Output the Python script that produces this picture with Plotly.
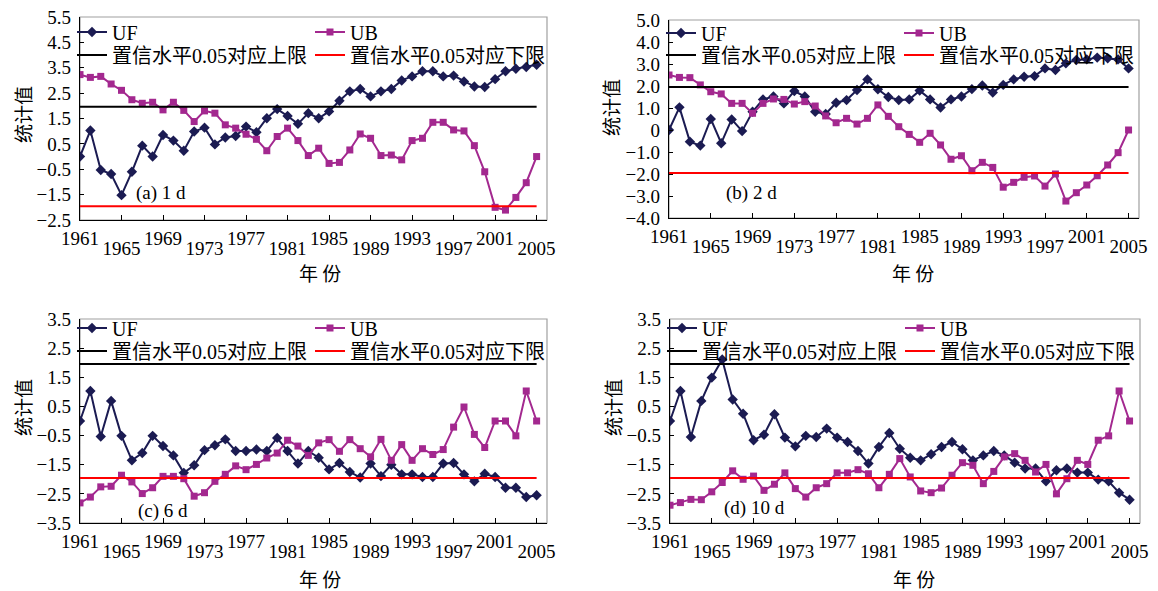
import plotly.graph_objects as go

years = list(range(1961, 2006))

UF_1d = [0.0, 1.03, -0.53, -0.69, -1.52, -0.6, 0.43, 0.0, 0.85, 0.63,
         0.23, 0.99, 1.14, 0.48, 0.75, 0.81, 1.18, 0.96, 1.51, 1.87,
         1.6, 1.29, 1.71, 1.51, 1.78, 2.2, 2.57, 2.66, 2.37, 2.57,
         2.66, 3.0, 3.16, 3.36, 3.36, 3.16, 3.19, 2.96, 2.76, 2.74,
         3.05, 3.36, 3.46, 3.53, 3.62]
UB_1d = [3.23, 3.12, 3.16, 2.86, 2.61, 2.24, 2.1, 2.14, 1.84, 2.14,
         1.82, 1.38, 1.8, 1.71, 1.25, 1.12, 0.88, 0.68, 0.23, 0.79,
         1.12, 0.63, 0.04, 0.33, -0.27, -0.23, 0.26, 0.89, 0.72, 0.04,
         0.06, -0.13, 0.63, 0.72, 1.35, 1.35, 1.05, 1.01, 0.43, -0.6,
         -2.0, -2.11, -1.61, -1.03, 0.0]
UF_2d = [0.0, 1.03, -0.53, -0.71, 0.5, -0.6, 0.48, -0.05, 0.83, 1.39,
         1.52, 1.21, 1.77, 1.52, 0.83, 0.73, 1.24, 1.36, 1.82, 2.3,
         1.85, 1.5, 1.36, 1.39, 1.79, 1.39, 1.02, 1.39, 1.52, 1.86,
         2.02, 1.7, 2.05, 2.3, 2.42, 2.45, 2.8, 2.73, 3.03, 3.18,
         3.21, 3.29, 3.26, 3.21, 2.8]
UB_2d = [2.5, 2.39, 2.38, 2.05, 1.74, 1.64, 1.21, 1.21, 0.76, 1.21,
         1.41, 1.39, 1.18, 1.29, 1.09, 0.64, 0.33, 0.53, 0.27, 0.53,
         1.14, 0.62, 0.15, -0.2, -0.56, -0.15, -0.68, -1.33, -1.17, -1.85,
         -1.47, -1.7, -2.6, -2.38, -2.15, -2.09, -2.55, -2.0, -3.23, -2.85,
         -2.5, -2.08, -1.59, -1.03, 0.0]
UF_6d = [0.0, 1.03, -0.53, 0.69, -0.51, -1.35, -1.1, -0.51, -0.86, -1.18,
         -1.78, -1.52, -1.0, -0.83, -0.63, -1.03, -1.03, -0.98, -1.03, -0.58,
         -1.03, -1.46, -1.03, -1.26, -1.66, -1.44, -1.75, -1.94, -1.46, -1.89,
         -1.5, -1.83, -1.83, -1.92, -1.92, -1.46, -1.44, -1.83, -2.07, -1.81,
         -1.92, -2.29, -2.29, -2.61, -2.55]
UB_6d = [-2.81, -2.61, -2.26, -2.24, -1.86, -2.09, -2.49, -2.29, -1.9, -1.9,
         -1.98, -2.58, -2.46, -2.07, -1.83, -1.54, -1.67, -1.49, -1.27, -1.1,
         -0.66, -0.86, -1.18, -0.75, -0.64, -1.04, -0.64, -0.95, -1.23, -0.63,
         -1.35, -0.81, -1.35, -0.95, -1.15, -0.98, -0.21, 0.48, -0.46, -0.91,
         0.0, 0.0, -0.51, 1.03, 0.0]
UF_10d = [0.0, 1.03, -0.55, 0.69, 1.49, 2.11, 0.74, 0.25, -0.66, -0.47,
          0.23, -0.57, -0.87, -0.51, -0.55, -0.26, -0.57, -0.72, -1.03, -1.46,
          -0.89, -0.41, -0.95, -1.26, -1.35, -1.14, -0.89, -0.72, -0.97, -1.35,
          -1.18, -1.03, -1.18, -1.43, -1.63, -1.63, -2.07, -1.69, -1.63, -1.77,
          -1.77, -2.01, -2.07, -2.46, -2.7]
UB_10d = [-2.89, -2.8, -2.69, -2.7, -2.43, -2.11, -1.71, -2.0, -1.89, -2.38,
          -2.17, -1.78, -2.32, -2.61, -2.29, -2.15, -1.78, -1.78, -1.67, -1.81,
          -2.29, -1.83, -1.29, -1.92, -2.4, -2.46, -2.3, -1.86, -1.43, -1.52,
          -2.15, -1.73, -1.23, -1.12, -1.35, -1.75, -1.49, -2.5, -1.98, -1.35,
          -1.49, -0.66, -0.51, 1.03, 0.0]

upper_limit = 1.96
lower_limit = -1.96

series_names = ["UF", "UB", "置信水平0.05对应上限", "置信水平0.05对应下限"]
panel_labels = ["(a) 1 d", "(b) 2 d", "(c) 6 d", "(d) 10 d"]
y_title = "统计值"
x_title = "年 份"

y_ticks_a = [5.5, 4.5, 3.5, 2.5, 1.5, 0.5, -0.5, -1.5, -2.5]
y_ticks_b = [5.0, 4.0, 3.0, 2.0, 1.0, 0.0, -1.0, -2.0, -3.0, -4.0]
y_ticks_cd = [3.5, 2.5, 1.5, 0.5, -0.5, -1.5, -2.5, -3.5]
x_ticks = list(range(1961, 2006, 4))

uf_series = [UF_1d, UF_2d, UF_6d, UF_10d]
ub_series = [UB_1d, UB_2d, UB_6d, UB_10d]
y_ticks = [y_ticks_a, y_ticks_b, y_ticks_cd, y_ticks_cd]

# ---------------- styling / geometry ----------------
W, H = 1158, 591
UF_COLOR = "#1b1b52"
UB_COLOR = "#a3288f"
SERIF = "Liberation Serif, Times New Roman, Noto Sans CJK SC, serif"
CJK = "Noto Sans CJK SC, sans-serif"

# plot areas in pixels: (left, right, top, bottom)
boxes = [(80, 547, 17, 220), (669, 1139, 20, 218), (80, 547, 319, 523), (670, 1140, 319, 523)]
y_ranges = [(-2.5, 5.5), (-4.0, 5.0), (-3.5, 3.5), (-3.5, 3.5)]
legend_rows = [(32, 55), (33, 55), (328, 351), (328, 351)]
ytitle_pos = [(22, 115), (610, 108), (22, 408), (612, 408)]
xtitle_pos = [(320, 273), (913, 273), (320, 578), (914, 578)]
label_pos = [(161, 193), (751, 193), (163, 511), (755, 508)]


def fmt(v, zero_plain=False):
    if zero_plain and abs(v) < 1e-9:
        return "0"
    s = f"{abs(v):.1f}"
    return ("\u2212" + s) if v < 0 else s


def px_x(p):
    return p / W


def px_y(p):
    return 1 - p / H


fig = go.Figure()
layout = dict(
    width=W, height=H,
    margin=dict(l=0, r=0, t=0, b=0, pad=0, autoexpand=False),
    paper_bgcolor="white", plot_bgcolor="white",
    showlegend=True, hovermode=False,
    font=dict(family=SERIF, size=19, color="black"),
)
shapes = []
annotations = []

for i in range(4):
    n = i + 1
    sx = "" if n == 1 else str(n)
    ox = str(n + 4)
    xa, ya, xo = "x" + sx, "y" + sx, "x" + ox
    l, r, t, b = boxes[i]
    leg1 = "legend" if i == 0 else f"legend{2 * i + 1}"
    leg2 = f"legend{2 * i + 2}"

    fig.add_trace(go.Scatter(
        x=years, y=uf_series[i], name=series_names[0], mode="lines+markers",
        line=dict(color=UF_COLOR, width=2),
        marker=dict(symbol="diamond", size=8, color=UF_COLOR),
        xaxis=xa, yaxis=ya, legend=leg1))
    fig.add_trace(go.Scatter(
        x=years, y=ub_series[i], name=series_names[1], mode="lines+markers",
        line=dict(color=UB_COLOR, width=2),
        marker=dict(symbol="square", size=7, color=UB_COLOR),
        xaxis=xa, yaxis=ya, legend=leg1))
    fig.add_trace(go.Scatter(
        x=[years[0], years[-1]], y=[upper_limit, upper_limit], name=series_names[2],
        mode="lines", line=dict(color="black", width=2),
        xaxis=xo, yaxis=ya, legend=leg2))
    fig.add_trace(go.Scatter(
        x=[years[0], years[-1]], y=[lower_limit, lower_limit], name=series_names[3],
        mode="lines", line=dict(color="#ff0000", width=2),
        xaxis=xo, yaxis=ya, legend=leg2))

    xdom = [px_x(l), px_x(r)]
    ydom = [px_y(b), px_y(t)]
    xr = [years[0], years[-1] + 1]

    top_text = [str(v) if k % 2 == 0 else "" for k, v in enumerate(x_ticks)]
    layout["xaxis" + sx] = dict(
        domain=xdom, range=xr, anchor=ya,
        tickmode="array", tickvals=x_ticks, ticktext=top_text,
        ticks="inside", ticklen=5, tickcolor="black", tickwidth=1,
        showline=True, linecolor="black", linewidth=1.2,
        showgrid=False, zeroline=False, ticklabelstandoff=1,
        tickfont=dict(family=SERIF, size=19, color="black"))
    low_vals = [v for k, v in enumerate(x_ticks) if k % 2 == 1]
    layout["xaxis" + ox] = dict(
        overlaying=xa, anchor=ya, side="bottom", range=xr,
        tickmode="array", tickvals=low_vals, ticktext=[str(v) for v in low_vals],
        ticks="", showline=False, showgrid=False, zeroline=False,
        ticklabelstandoff=15,
        tickfont=dict(family=SERIF, size=19, color="black"))

    yt = y_ticks[i]
    layout["yaxis" + sx] = dict(
        domain=ydom, range=list(y_ranges[i]), anchor=xa,
        tickmode="array", tickvals=yt, ticktext=[fmt(v, zero_plain=(i == 1)) for v in yt],
        ticks="inside", ticklen=4, tickcolor="black",
        showline=True, linecolor="black", linewidth=1.2,
        showgrid=False, zeroline=False, ticklabelstandoff=4,
        tickfont=dict(family=SERIF, size=19, color="black"))

    shapes.append(dict(type="rect", xref=xa + " domain", yref=ya + " domain",
                       x0=0, x1=1, y0=0, y1=1, line=dict(color="#a0a0a0", width=1.2),
                       layer="below"))

    r1, r2 = legend_rows[i]
    for key, yy in ((leg1, r1), (leg2, r2)):
        layout[key] = dict(
            orientation="h", x=px_x(l - 8), xanchor="left", y=px_y(yy), yanchor="middle",
            bgcolor="rgba(0,0,0,0)", borderwidth=0, entrywidth=193, entrywidthmode="pixels",
            itemclick=False, itemdoubleclick=False,
            font=dict(family=SERIF, size=20, color="black"))

    tx, ty = ytitle_pos[i]
    annotations.append(dict(text=y_title, xref="paper", yref="paper", x=px_x(tx), y=px_y(ty),
                            xanchor="center", yanchor="middle", textangle=-90, showarrow=False,
                            font=dict(family=CJK, size=19, color="black")))
    tx, ty = xtitle_pos[i]
    annotations.append(dict(text=x_title, xref="paper", yref="paper", x=px_x(tx), y=px_y(ty),
                            xanchor="center", yanchor="middle", showarrow=False,
                            font=dict(family=CJK, size=19, color="black")))
    tx, ty = label_pos[i]
    annotations.append(dict(text=panel_labels[i], xref="paper", yref="paper", x=px_x(tx), y=px_y(ty),
                            xanchor="center", yanchor="middle", showarrow=False,
                            font=dict(family=SERIF, size=19, color="black")))

layout["shapes"] = shapes
layout["annotations"] = annotations
fig.update_layout(**layout)
fig.write_html("out.html",
               config={"displayModeBar": False, "staticPlot": True},
               post_script="document.body.style.margin='0';document.body.style.padding='0';document.body.style.overflow='hidden';")
